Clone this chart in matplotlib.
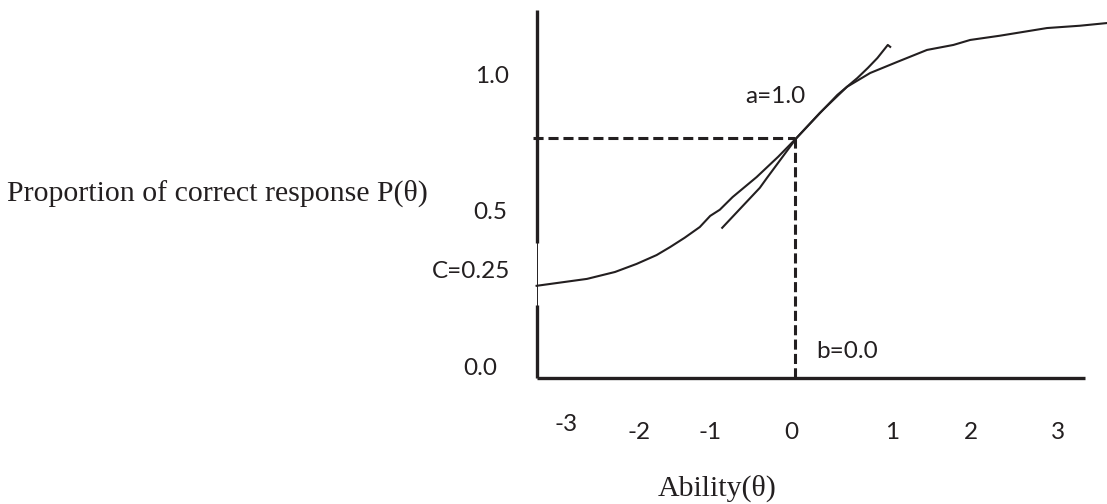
import matplotlib
matplotlib.use('Agg')
import matplotlib.pyplot as plt

# item characteristic curve (theta, P)
theta = [-3.23, -2.60, -2.25, -1.98, -1.73, -1.56, -1.38, -1.19, -1.06, -0.94,
         -0.78, -0.48, -0.21, 0.02, 0.31, 0.65, 0.94, 1.28, 1.65, 1.98,
         2.19, 2.56, 3.15, 3.56, 3.90]
prob = [0.240, 0.258, 0.276, 0.297, 0.320, 0.341, 0.365, 0.393, 0.422, 0.438,
        0.471, 0.523, 0.576, 0.625, 0.690, 0.758, 0.794, 0.823, 0.854, 0.867,
        0.880, 0.891, 0.911, 0.917, 0.924]

# hand drawn tangent at the inflection point (slope a)
tan_theta = [-0.91, -0.44, -0.35, 0.02, 0.35, 0.53, 0.78, 0.91, 1.03, 1.16, 1.19]
tan_prob = [0.391, 0.495, 0.521, 0.625, 0.698, 0.737, 0.781, 0.807, 0.833, 0.867, 0.862]

B = 0.0
C = 0.25
P_B = 0.625

xtick_labels = ['-3', '-2', '-1', '0', '1', '2', '3']
ytick_labels = ['1.0', '0.5', '0.0']

# layout (where the labels sit in the drawing)
X_LEFT, X_RIGHT, Y_TOP = -3.225, 3.625, 0.958
GAP_LO, GAP_HI = 0.19, 0.352
xtick_pos = [-2.86, -1.95, -1.06, -0.04, 1.21, 2.20, 3.29]
xtick_y = [-0.120, -0.141, -0.141, -0.141, -0.141, -0.141, -0.141]
ytick_pos = [(-3.79, 0.786), (-3.81, 0.432), (-3.94, 0.026)]

INK = '#231f20'
serif = ['Liberation Serif', 'DejaVu Serif']
sans = ['Lato', 'DejaVu Sans']

fig = plt.figure(figsize=(11.07, 5.04), dpi=100)
ax = fig.add_axes([0, 0, 1, 1])
ax.set_xlim(-9.9375, 3.9)
ax.set_ylim(-0.328, 0.984)
ax.axis('off')

# axes drawn by hand, the y axis has a thin break around c
ax.plot([X_LEFT, X_LEFT], [Y_TOP, GAP_HI], color=INK, lw=2.4, solid_capstyle='butt')
ax.plot([X_LEFT, X_LEFT], [GAP_HI, GAP_LO], color=INK, lw=0.7)
ax.plot([X_LEFT, X_LEFT], [GAP_LO, 0], color=INK, lw=2.4, solid_capstyle='butt')
ax.plot([X_LEFT, X_RIGHT], [0, 0], color=INK, lw=2.4, solid_capstyle='butt')

# dashed guides to b and P(b)
ax.plot([X_LEFT - 0.05, B], [P_B, P_B], color=INK, lw=2.2, dashes=(3.3, 1.6))
ax.plot([B, B], [P_B, 0], color=INK, lw=2.2, dashes=(3.3, 1.4))

ax.plot(theta, prob, color=INK, lw=1.5)
ax.plot(tan_theta, tan_prob, color=INK, lw=1.5)

for lab, x, y in zip(xtick_labels, xtick_pos, xtick_y):
    ax.text(x, y, lab, ha='center', va='center', fontsize=17.5, family=sans, color=INK)
for lab, (x, y) in zip(ytick_labels, ytick_pos):
    ax.text(x, y, lab, ha='center', va='center', fontsize=17.5, family=sans, color=INK)

ax.text(-3.56, 0.276, 'C=0.25', ha='right', va='center', fontsize=17.5, family=sans, color=INK)
ax.text(-0.24, 0.732, 'a=1.0', ha='center', va='center', fontsize=17.5, family=sans, color=INK)
ax.text(0.65, 0.068, 'b=0.0', ha='center', va='center', fontsize=17.5, family=sans, color=INK)

ax.text(-4.59, 0.482, 'Proportion of correct response P(θ)', ha='right', va='center',
        fontsize=21.5, family=serif, color=INK)
ax.text(-0.975, -0.286, 'Ability(θ)', ha='center', va='center',
        fontsize=21.5, family=serif, color=INK)

fig.savefig('out.png', dpi=100)
